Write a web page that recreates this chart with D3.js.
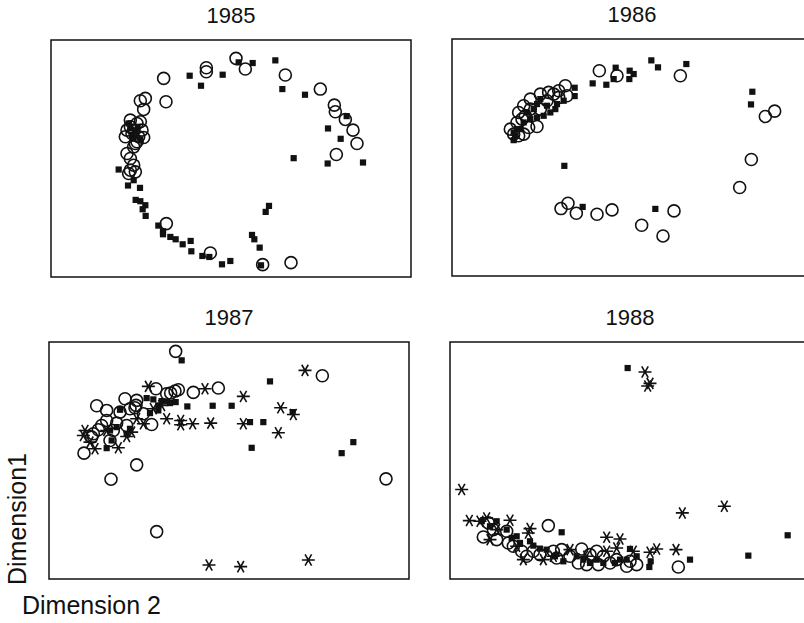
<!DOCTYPE html>
<html>
<head>
<meta charset="utf-8">
<script src="https://cdn.jsdelivr.net/npm/d3@7"></script>
<style>
  html, body { margin: 0; padding: 0; background: #fff; }
  svg { display: block; }
  text { font-family: "Liberation Sans", Arial, Helvetica, sans-serif; fill: #111; }
</style>
</head>
<body>
<svg id="chart" width="804" height="623"></svg>
<script>
// ---- Data (MDS coordinates, arbitrary units: Dimension 2 = x, Dimension 1 = y) ----
const years = ["1985", "1986", "1987", "1988"];
const xDomain = [0, 108];
const yDomain = [0, 71];

const open1985 = [[55.5,65.5],[58.3,62.3],[46.6,62.7],[46.6,61.5],[33.8,59.5],[70.3,60.5],[80.8,56.3],
  [28.3,53.5],[26.8,52.8],[27.8,50.2],[34.5,52.5],[85.0,51.5],[85.3,49.5],[88.3,47.2],[90.6,44.0],
  [91.8,40.0],[85.6,36.7],[23.8,45.0],[24.8,44.0],[25.8,46.0],[26.8,46.5],[24.3,43.0],[26.3,42.0],
  [27.8,41.8],[25.3,40.0],[24.8,39.0],[22.8,37.0],[23.8,35.5],[24.8,33.5],[23.8,32.0],[23.3,31.0],
  [25.3,31.5],[34.6,16.0],[47.8,7.2],[63.5,3.7],[72.0,4.3],
  [22.8,44.0],[23.8,47.0],[27.3,44.0],[25.8,40.5],[22.3,42.0]];
const filled1985 = [[56.3,64.3],[60.5,64.1],[67.3,64.9],[41.6,60.3],[45.0,57.3],[51.5,60.6],[69.4,56.3],
  [76.2,54.6],[88.7,48.2],[83.1,44.5],[86.9,41.4],[72.8,35.6],[83.0,34.0],[93.6,34.3],[23.8,44.5],
  [25.3,43.5],[26.0,45.0],[24.3,42.2],[20.3,32.2],[24.8,29.0],[23.1,27.4],[26.7,26.7],[25.4,23.1],
  [26.8,22.7],[28.3,21.5],[27.5,20.3],[28.4,18.3],[65.4,21.3],[64.4,19.5],[32.2,15.4],[33.6,13.7],
  [33.6,12.8],[35.8,12.0],[37.4,11.3],[39.5,9.8],[41.9,10.8],[42.1,7.7],[45.4,6.3],[47.5,6.0],
  [51.3,3.8],[53.8,4.8],[60.3,12.6],[61.0,11.3],[62.6,8.8],[63.0,3.5],
  [23.3,46.0],[26.8,41.0],[24.8,41.5]];
const star1985 = [];

const open1986 = [[44.2,61.5],[49.5,60.0],[68.5,60.0],[34.0,57.0],[32.0,55.5],[29.0,55.0],[26.5,54.5],
  [23.5,53.0],[21.5,51.0],[20.0,49.0],[21.0,47.0],[25.5,44.8],[18.5,42.5],[21.5,42.5],[34.5,54.0],
  [30.5,54.5],[96.8,49.4],[94.0,47.8],[89.8,34.9],[86.3,26.5],[34.8,21.8],[32.7,20.2],[37.3,18.8],
  [43.5,18.5],[48.0,19.8],[66.6,19.5],[56.9,15.2],[63.3,12.0],
  [28.5,52.5],[26.5,50.0],[23.5,50.0],[22.0,48.0],[19.5,46.0],[17.5,44.0],[23.0,44.5],[20.0,42.0],
  [32.0,53.5]];
const filled1986 = [[59.8,64.6],[61.8,62.5],[70.3,63.5],[49.1,62.4],[53.3,61.5],[54.5,60.5],[53.2,59.0],
  [48.5,59.0],[46.3,57.3],[42.2,57.7],[36.8,56.4],[36.8,53.9],[33.5,52.5],[31.0,50.0],[28.5,51.0],
  [27.5,48.0],[24.5,50.0],[22.5,49.0],[23.5,47.0],[21.5,46.0],[19.5,44.0],[18.5,40.7],[19.0,42.0],
  [26.5,53.0],[25.5,51.5],[90.1,55.2],[89.7,51.4],[33.7,33.0],[39.2,20.7],[61.0,20.1],
  [29.5,49.0],[25.5,47.5],[20.5,44.0],[18.5,43.0],[31.5,51.5]];
const star1986 = [];

const open1987 = [[38.0,68.2],[82.0,60.9],[50.8,57.2],[43.3,55.9],[38.8,56.7],[37.8,56.3],[36.5,55.7],
  [32.1,57.0],[22.8,54.0],[26.3,53.5],[26.1,52.0],[25.8,51.3],[14.3,51.9],[17.3,50.5],[21.3,50.0],
  [17.3,47.5],[20.3,46.7],[23.3,46.0],[30.8,46.3],[14.8,44.7],[12.8,42.5],[18.3,41.5],[10.5,37.7],
  [26.3,34.2],[18.6,29.9],[101.1,30.0],[32.3,14.2],
  [15.8,46.0],[13.3,43.5],[19.3,44.5],[28.3,49.5],[24.3,51.0],[35.3,55.5]];
const filled1987 = [[39.8,65.5],[66.3,59.2],[29.3,54.2],[31.3,53.8],[33.8,53.3],[36.3,52.7],[38.0,53.0],
  [41.5,51.7],[49.1,51.9],[54.8,51.9],[73.1,50.0],[21.3,50.7],[30.3,49.7],[32.8,50.5],[60.3,47.0],
  [64.3,47.0],[18.3,44.5],[18.8,41.5],[23.3,43.5],[17.3,39.2],[60.8,39.3],[91.3,41.0],[87.8,37.7],
  [20.3,45.5],[24.3,45.0],[32.8,52.0],[35.3,53.2]];
const star1987 = [[76.8,62.5],[29.8,57.7],[46.8,57.0],[58.3,54.7],[69.5,51.3],[73.3,49.3],[35.3,48.0],
  [39.5,47.5],[39.5,46.2],[43.1,46.5],[48.5,46.7],[58.3,46.5],[68.8,43.8],[10.8,44.5],[10.3,43.0],
  [13.8,39.0],[20.8,39.3],[24.8,44.0],[26.3,48.0],[28.3,46.5],[48.0,4.2],[57.5,3.7],[77.8,5.7],
  [17.3,44.5],[12.3,41.0],[23.3,42.7],[31.3,51.0],[33.8,52.0]];

const open1988 = [[29.5,16.0],[10.0,12.6],[14.0,11.8],[11.5,16.8],[17.0,14.3],[19.0,9.8],[21.5,8.3],
  [23.0,6.8],[25.0,8.3],[31.0,8.3],[32.0,6.3],[36.0,6.8],[39.5,9.0],[38.5,4.8],[44.0,8.3],[46.0,6.8],
  [50.0,5.8],[53.0,3.8],[56.0,4.3],[44.5,4.3],[41.0,4.3],[68.5,3.6],
  [13.0,14.8],[17.5,10.8],[27.0,7.3],[33.5,8.8],[42.0,7.3],[48.0,4.8],[54.0,5.3]];
const filled1988 = [[53.3,63.2],[33.5,14.0],[101.3,13.1],[89.5,7.0],[72.0,5.8],[59.8,3.6],[60.2,5.3],
  [54.0,9.0],[9.5,17.3],[14.0,17.3],[17.0,14.8],[18.5,12.3],[21.0,10.8],[24.0,11.3],[27.0,9.1],
  [29.0,8.8],[34.0,5.3],[40.0,5.8],[42.0,4.8],[46.0,4.8],[51.0,5.8],[53.0,5.8],
  [12.0,15.8],[20.0,12.8],[25.0,10.0],[31.5,6.8],[38.0,6.8],[44.0,5.8],[49.5,4.8],[56.0,6.8]];
const star1988 = [[58.5,62.0],[60.0,58.6],[59.3,57.8],[3.5,26.8],[5.8,17.5],[11.0,18.3],[18.0,17.6],
  [24.0,15.1],[23.5,13.8],[69.7,19.8],[82.3,21.8],[47.0,12.5],[51.0,12.0],[67.8,8.8],[62.0,9.0],
  [60.0,8.0],[55.0,8.3],[12.0,11.8],[22.0,5.8],[28.0,5.8],[36.0,8.8],[47.0,8.3],
  [9.0,17.3],[14.0,14.8],[20.0,9.8],[31.0,6.8],[41.0,6.8],[50.0,9.3]];

const openSets = [open1985, open1986, open1987, open1988];
const filledSets = [filled1985, filled1986, filled1987, filled1988];
const starSets = [star1985, star1986, star1987, star1988];

// ---- Layout ----
const svg = d3.select("#chart");
const panelW = 360, panelH = 237;
const panelPos = [[51, 40], [452, 39], [49, 342], [450, 342]];

years.forEach((yr, i) => {
  const [px, py] = panelPos[i];
  const x = d3.scaleLinear().domain(xDomain).range([px, px + panelW]);
  const y = d3.scaleLinear().domain(yDomain).range([py + panelH, py]);
  const g = svg.append("g");

  g.append("rect")
    .attr("x", px).attr("y", py).attr("width", panelW).attr("height", panelH)
    .attr("fill", "none").attr("stroke", "#111").attr("stroke-width", 1.5);

  g.append("text")
    .attr("x", px + panelW / 2).attr("y", py - 17)
    .attr("text-anchor", "middle").attr("font-size", 22)
    .text(yr);

  g.selectAll("circle.open").data(openSets[i]).join("circle")
    .attr("class", "open")
    .attr("cx", d => x(d[0])).attr("cy", d => y(d[1])).attr("r", 6)
    .attr("fill", "none").attr("stroke", "#111").attr("stroke-width", 1.6);

  const s = 6.2;
  g.selectAll("rect.filled").data(filledSets[i]).join("rect")
    .attr("class", "filled")
    .attr("x", d => x(d[0]) - s / 2).attr("y", d => y(d[1]) - s / 2)
    .attr("width", s).attr("height", s).attr("fill", "#111");

  const a = 6.5;
  const starPath = d => {
    const cx = x(d[0]), cy = y(d[1]);
    let p = "";
    [0, 60, 120].forEach(deg => {
      const r = deg * Math.PI / 180;
      const dx = a * Math.cos(r), dy = a * Math.sin(r);
      p += `M${cx - dx},${cy - dy}L${cx + dx},${cy + dy}`;
    });
    return p;
  };
  g.selectAll("path.star").data(starSets[i]).join("path")
    .attr("class", "star")
    .attr("d", starPath)
    .attr("fill", "none").attr("stroke", "#111").attr("stroke-width", 1.6);
});

svg.append("text")
  .attr("transform", "translate(26,585) rotate(-90)")
  .attr("text-anchor", "start").attr("font-size", 25)
  .text("Dimension1");

svg.append("text")
  .attr("x", 22).attr("y", 614)
  .attr("text-anchor", "start").attr("font-size", 25)
  .text("Dimension 2");
</script>
</body>
</html>
